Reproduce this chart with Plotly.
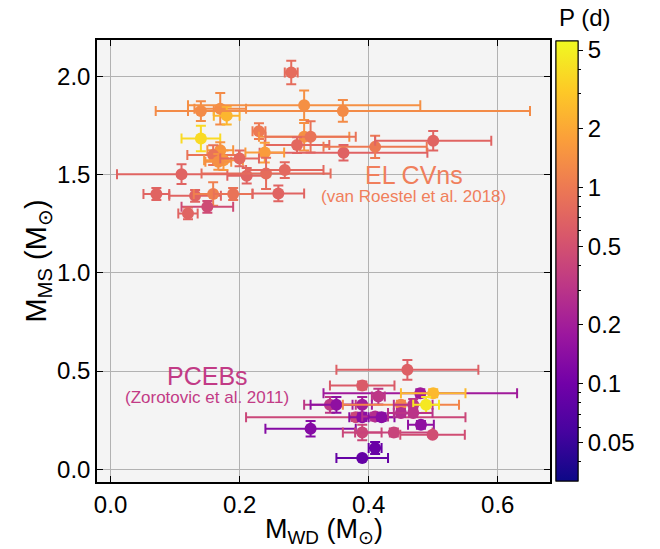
import numpy as np
import plotly.graph_objects as go
from plotly.colors import sample_colorscale

# ---- EL CVns (van Roestel et al. 2018) ----
cv_mwd = [0.280, 0.140, 0.170, 0.180, 0.300, 0.360, 0.140, 0.230, 0.300, 0.310,
          0.289, 0.361, 0.410, 0.500, 0.239, 0.170, 0.159, 0.175, 0.167, 0.200,
          0.110, 0.211, 0.241, 0.270, 0.071, 0.131, 0.159, 0.190, 0.260, 0.150,
          0.120]
cv_mwd_err = [0.010, 0.020, 0.040, 0.020, 0.180, 0.290, 0.030, 0.010, 0.070, 0.070,
              0.050, 0.130, 0.080, 0.090, 0.030, 0.020, 0.040, 0.030, 0.020, 0.030,
              0.100, 0.030, 0.100, 0.060, 0.020, 0.040, 0.030, 0.030, 0.040, 0.040,
              0.015]
cv_mms = [2.020, 1.823, 1.835, 1.800, 1.853, 1.824, 1.684, 1.721, 1.692, 1.692,
          1.650, 1.611, 1.641, 1.672, 1.612, 1.624, 1.599, 1.573, 1.565, 1.582,
          1.502, 1.494, 1.506, 1.523, 1.401, 1.392, 1.401, 1.401, 1.404, 1.336,
          1.302]
cv_mms_err = [0.060, 0.050, 0.080, 0.045, 0.075, 0.055, 0.065, 0.040, 0.070, 0.080,
              0.040, 0.040, 0.057, 0.050, 0.050, 0.040, 0.050, 0.050, 0.040, 0.040,
              0.050, 0.040, 0.080, 0.040, 0.030, 0.030, 0.060, 0.030, 0.040, 0.030,
              0.030]
cv_period = [0.80, 1.30, 1.30, 2.40, 1.40, 1.30, 3.80, 1.00, 1.40, 0.90,
             0.75, 0.68, 1.00, 0.70, 1.70, 1.50, 0.90, 1.60, 1.40, 0.75,
             0.70, 0.70, 0.80, 0.75, 0.70, 0.70, 1.10, 0.90, 0.70, 0.45,
             0.70]

# ---- PCEBs (Zorotovic et al. 2011) ----
pceb_mwd = [0.460, 0.390, 0.480, 0.500, 0.415, 0.340, 0.350, 0.390, 0.450, 0.469,
            0.489, 0.380, 0.390, 0.410, 0.420, 0.450, 0.469, 0.481, 0.310, 0.390,
            0.439, 0.499, 0.410, 0.390]
pceb_mwd_err = [0.110, 0.050, 0.150, 0.050, 0.010, 0.040, 0.040, 0.015, 0.090, 0.030,
                0.020, 0.170, 0.020, 0.020, 0.020, 0.020, 0.030, 0.020, 0.070, 0.030,
                0.060, 0.050, 0.010, 0.040]
pceb_mms = [0.506, 0.426, 0.387, 0.387, 0.370, 0.328, 0.328, 0.328, 0.328, 0.328,
            0.328, 0.265, 0.265, 0.268, 0.265, 0.286, 0.286, 0.226, 0.206, 0.187,
            0.187, 0.175, 0.108, 0.057]
pceb_mms_err = [0.050, 0.020, 0.020, 0.020, 0.040, 0.040, 0.040, 0.040, 0.020, 0.030,
                0.040, 0.020, 0.020, 0.020, 0.020, 0.020, 0.020, 0.020, 0.040, 0.040,
                0.020, 0.010, 0.030, 0.010]
pceb_period = [0.65, 0.60, 0.19, 2.50, 0.32, 0.32, 0.15, 0.20, 1.20, 0.30,
               4.50, 0.42, 0.14, 0.27, 0.14, 0.27, 0.30, 0.15, 0.13, 0.42,
               0.40, 0.47, 0.09, 0.085]

# Colour-bar labels (orbital period, days)
cbar_major = [0.05, 0.1, 0.2, 0.5, 1, 2, 5]
cbar_major_text = ["0.05", "0.1", "0.2", "0.5", "1", "2", "5"]
cbar_minor = [0.04, 0.06, 0.07, 0.08, 0.09, 0.3, 0.4, 0.6, 0.7, 0.8, 0.9, 3, 4]

LOGP_MIN, LOGP_MAX = np.log10(0.032), np.log10(5.56)
FONT = "Liberation Sans, Arial, Helvetica, sans-serif"


def period_colour(p):
    t = (np.log10(p) - LOGP_MIN) / (LOGP_MAX - LOGP_MIN)
    return sample_colorscale("Plasma", [float(np.clip(t, 0, 1))])[0]


fig = go.Figure()


def add_points(xs, xe, ys, ye, ps):
    for x, dx, y, dy, p in zip(xs, xe, ys, ye, ps):
        c = period_colour(p)
        fig.add_trace(go.Scatter(
            x=[x], y=[y], mode="markers",
            marker=dict(size=12, color=[np.log10(p)], colorscale="Plasma",
                        cmin=LOGP_MIN, cmax=LOGP_MAX, line=dict(width=0)),
            error_x=dict(type="data", array=[dx], color=c, thickness=2, width=5),
            error_y=dict(type="data", array=[dy], color=c, thickness=2, width=5),
            showlegend=False, hoverinfo="skip"))


add_points(cv_mwd, cv_mwd_err, cv_mms, cv_mms_err, cv_period)
add_points(pceb_mwd, pceb_mwd_err, pceb_mms, pceb_mms_err, pceb_period)

# colour bar: major ticks with labels, then minor ticks on top
cb_common = dict(x=1.013, xanchor="left", xref="paper", y=0.5, yanchor="middle",
                 len=0.995, lenmode="fraction", thickness=22, thicknessmode="pixels",
                 xpad=0, ypad=0,
                 outlinecolor="black", outlinewidth=1, ticks="outside",
                 tickcolor="black", tickwidth=1)
fig.add_trace(go.Scatter(
    x=[None], y=[None], mode="markers", showlegend=False, hoverinfo="skip",
    marker=dict(color=[LOGP_MIN], colorscale="Plasma", cmin=LOGP_MIN, cmax=LOGP_MAX,
                showscale=True,
                colorbar=dict(**cb_common, ticklen=5,
                              tickvals=list(np.log10(cbar_major)), ticktext=cbar_major_text,
                              tickfont=dict(size=24, family=FONT, color="black")))))
fig.add_trace(go.Scatter(
    x=[None], y=[None], mode="markers", showlegend=False, hoverinfo="skip",
    marker=dict(color=[LOGP_MIN], colorscale="Plasma", cmin=LOGP_MIN, cmax=LOGP_MAX,
                showscale=True,
                colorbar=dict(**cb_common, ticklen=3, showticklabels=False,
                              tickvals=list(np.log10(cbar_minor))))))

axis_common = dict(ticks="inside", ticklen=6, tickwidth=1.2, tickcolor="black",
                   showline=True, linecolor="black", linewidth=1.5, mirror="allticks",
                   showgrid=True, gridcolor="#b2b2b2", gridwidth=1, zeroline=False,
                   tickfont=dict(size=24, family=FONT, color="black"),
                   tickformat=".1f", automargin=False)

fig.update_layout(
    width=660, height=549,
    margin=dict(l=97, r=110, t=40, b=67, autoexpand=False),
    paper_bgcolor="white", plot_bgcolor="#f4f4f4",
    font=dict(family=FONT, color="black"),
    xaxis=dict(**axis_common, range=[-0.021, 0.681], dtick=0.2, tick0=0),
    yaxis=dict(**axis_common, range=[-0.065, 2.185], dtick=0.5, tick0=0,
               title=dict(text="M<sub>MS</sub> (M<sub>⊙</sub>)",
                          font=dict(size=29, family=FONT), standoff=2)),
    annotations=[
        dict(x=0.5, y=-0.068, xref="paper", yref="paper", xanchor="center",
             yanchor="top", text="M<sub>WD</sub> (M<sub>⊙</sub>)", showarrow=False,
             font=dict(size=27, family=FONT, color="black")),
        dict(x=0.470, y=1.497, xref="x", yref="y", text="EL CVns", showarrow=False,
             font=dict(size=25, family=FONT, color="#f07f5c")),
        dict(x=0.470, y=1.387, xref="x", yref="y", text="(van Roestel et al. 2018)",
             showarrow=False, font=dict(size=17, family=FONT, color="#f07f5c")),
        dict(x=0.150, y=0.476, xref="x", yref="y", text="PCEBs", showarrow=False,
             font=dict(size=25, family=FONT, color="#c23b86")),
        dict(x=0.150, y=0.364, xref="x", yref="y", text="(Zorotovic et al. 2011)",
             showarrow=False, font=dict(size=17, family=FONT, color="#c23b86")),
        dict(x=1.077, y=1.05, xref="paper", yref="paper", yanchor="middle",
             xanchor="center", text="P (d)", showarrow=False,
             font=dict(size=24, family=FONT, color="black")),
    ],
)

fig.write_html("out.html")
